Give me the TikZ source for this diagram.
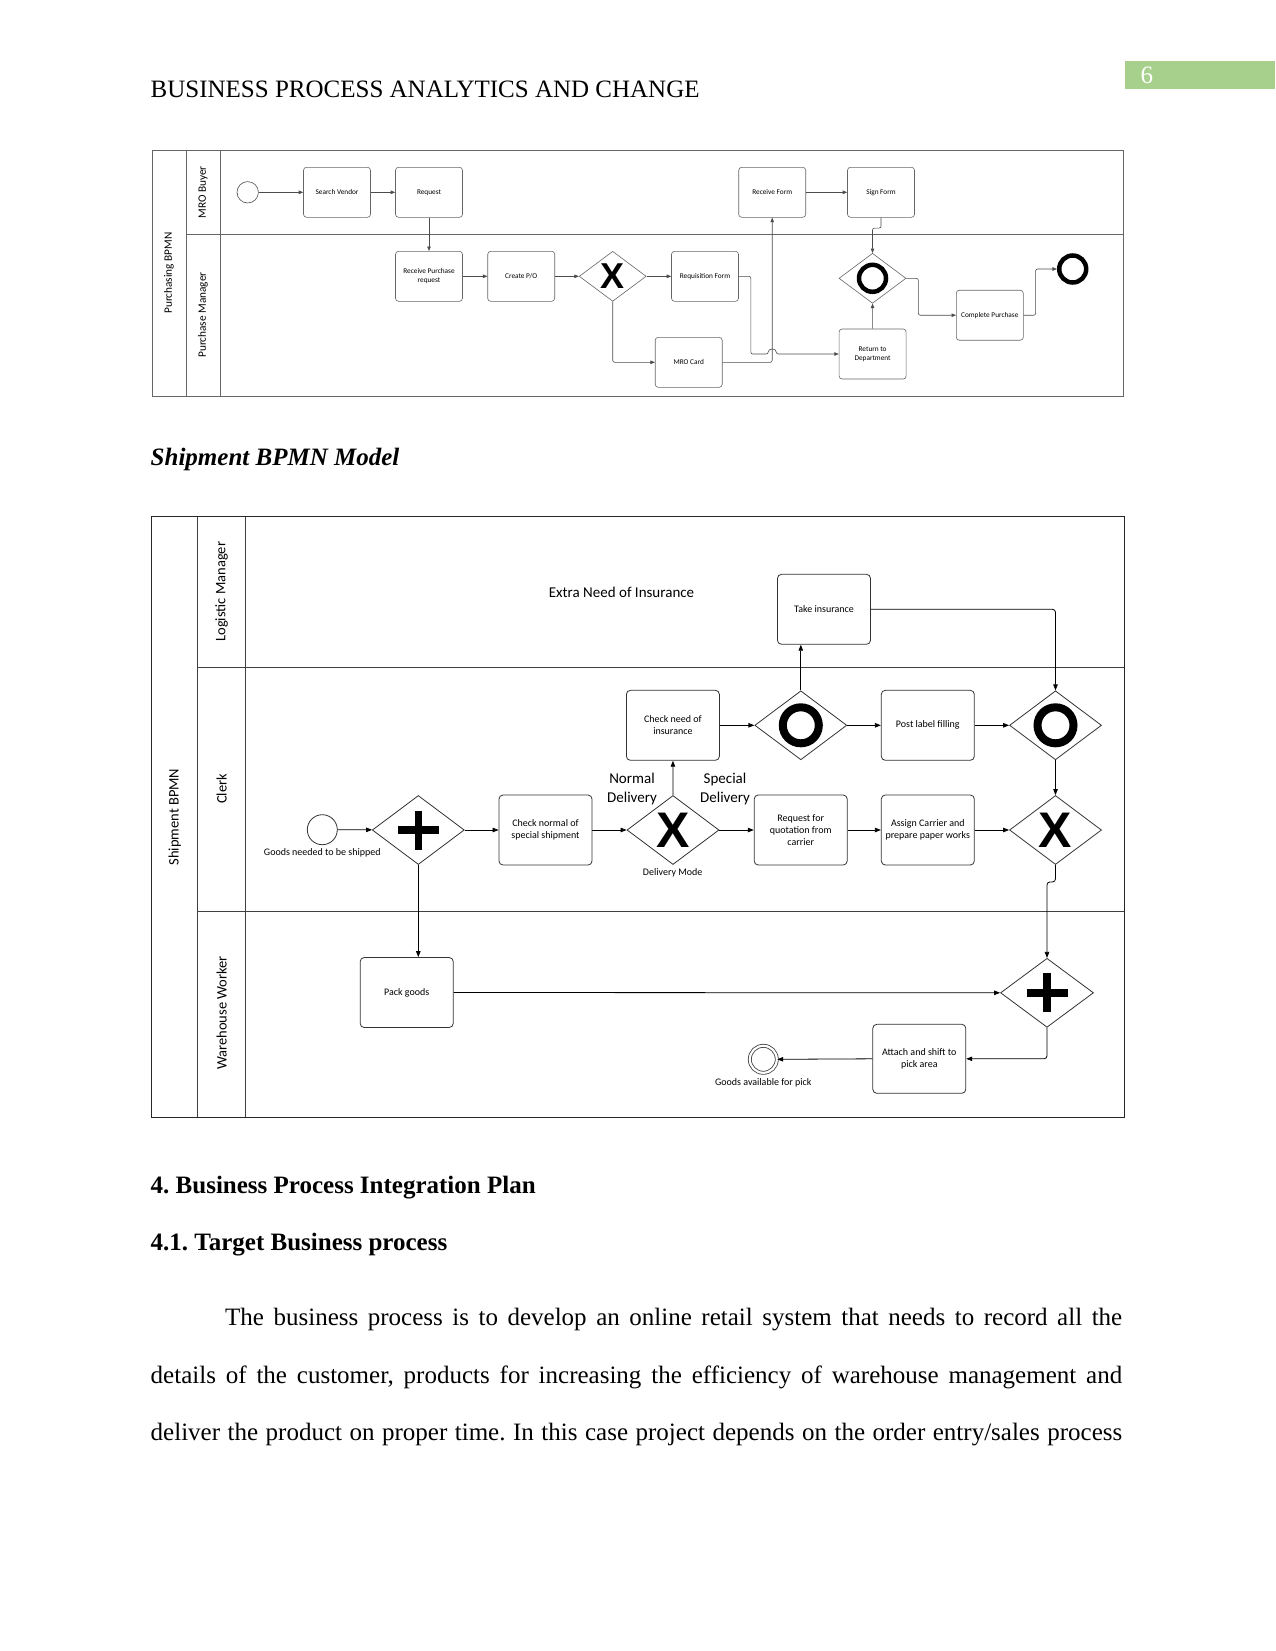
\documentclass[tikz,border=0pt]{standalone}
\usepackage{fontspec}
\setmainfont{Liberation Serif}
\newfontfamily\diagfont{Carlito}
\newfontfamily\markfont{Liberation Sans}
\usetikzlibrary{shapes.geometric,arrows.meta,positioning}
\definecolor{pagegreen}{RGB}{168,208,141}
\newcommand{\bodysize}{\fontsize{25}{30}\selectfont}
\frenchspacing

\begin{document}
\begin{tikzpicture}[
    x=1pt, y=-1pt,
    task/.style={rectangle, rounded corners=4pt, draw=black!80, line width=0.8pt,
                 minimum width=93pt, minimum height=70pt, inner sep=1pt, align=center,
                 font=\diagfont\fontsize{10}{12.3}\selectfont},
    minitask/.style={task, rounded corners=3pt, draw=black!60, line width=0.6pt,
                 minimum width=67pt, minimum height=50pt,
                 font=\diagfont\fontsize{7.3}{9.3}\selectfont},
    gate/.style={diamond, aspect=1.33, draw=black!80, line width=0.8pt,
                 minimum width=92pt, minimum height=69pt, inner sep=0pt},
    minigate/.style={gate, draw=black!60, line width=0.6pt,
                 minimum width=67pt, minimum height=50pt},
    xmark/.style={font=\markfont\bfseries\fontsize{50}{50}\selectfont},
    minixmark/.style={font=\markfont\bfseries\fontsize{36}{36}\selectfont},
    ogate/.style={path picture={\draw[draw=black, line width=8pt]
                 (path picture bounding box.center) circle[radius=18pt];}},
    miniogate/.style={path picture={\draw[draw=black, line width=4.5pt]
                 (path picture bounding box.center) circle[radius=13.5pt];}},
    plusgate/.style={path picture={\draw[draw=black, line width=7.5pt]
                 ([xshift=-20.5pt]path picture bounding box.center) --
                 ([xshift=20.5pt]path picture bounding box.center)
                 ([yshift=-19.5pt]path picture bounding box.center) --
                 ([yshift=19.5pt]path picture bounding box.center);}},
    flow/.style={draw=black, line width=0.8pt, -{Triangle[length=6pt,width=4.5pt]}},
    miniflow/.style={draw=black!70, line width=0.6pt, -{Triangle[length=4.5pt,width=3.5pt]}},
    lane/.style={draw=black!75, line width=0.9pt},
    minilane/.style={draw=black!60, line width=0.8pt},
    lanelabel/.style={rotate=90, font=\diagfont\fontsize{14.5}{17}\selectfont},
    minilanelabel/.style={rotate=90, font=\diagfont\fontsize{11.3}{13}\selectfont},
    note/.style={font=\diagfont\fontsize{10}{12}\selectfont, inner sep=0pt},
    pagetext/.style={anchor=base west, inner sep=0pt, font=\bodysize}
  ]
    \fill[white] (0,0) rectangle (1275,1651);
    \useasboundingbox (0,0) rectangle (1275,1651);

    % page header
    \node[pagetext] (header) at (150.5,97.5) {BUSINESS PROCESS ANALYTICS AND CHANGE};
    \node[anchor=north west, fill=pagegreen, minimum width=150pt, minimum height=28pt,
          inner sep=0pt, text width=150pt, align=left, text=white, font=\bodysize]
          (pagenum) at (1125,61) {\hspace*{15.5pt}6};

    % purchasing pool
    \draw[minilane] (152.5,150) rectangle (1123.5,396);
    \draw[minilane] (186,150) -- (186,396) (220,150) -- (220,396) (186,234) -- (1123.5,234);
    \node[minilanelabel] (poolbuy) at (169,273) {Purchasing BPMN};
    \node[minilanelabel] (buyer) at (203,192.3) {MRO Buyer};
    \node[minilanelabel] (manager) at (203,315) {Purchase Manager};

    \node[circle, draw=black!70, line width=0.6pt, minimum size=21.4pt, inner sep=0pt]
          (buystart) at (247.7,192.3) {};
    \node[minitask] (search) at (337,192.3) {Search Vendor};
    \node[minitask] (request) at (429,192.3) {Request};
    \node[minitask] (recvreq) at (429,276.3) {Receive Purchase\\request};
    \node[minitask] (createpo) at (521.2,276.3) {Create P/O};
    \node[minigate, minixmark] (xpay) at (612.7,276.3) {X};
    \node[minitask] (reqform) at (705,276.3) {Requisition Form};
    \node[minitask] (mrocard) at (688.7,362.3) {MRO Card};
    \node[minitask] (recvform) at (772.2,192.3) {Receive Form};
    \node[minitask] (signform) at (881,192.3) {Sign Form};
    \node[minigate, miniogate] (oform) at (872.5,278.3) {};
    \node[minitask] (retdept) at (872.6,354) {Return to\\Department};
    \node[minitask] (complete) at (989.8,315.2) {Complete Purchase};
    \node[circle, draw=black, line width=4.5pt, minimum size=27pt, inner sep=0pt]
          (buyend) at (1072.7,269) {};
    \coordinate (hop) at (recvform.south |- retdept.west);

    \draw[miniflow] (buystart) -- (search);
    \draw[miniflow] (search) -- (request);
    \draw[miniflow] (request) -- (recvreq);
    \draw[miniflow] (recvreq) -- (createpo);
    \draw[miniflow] (createpo) -- (xpay);
    \draw[miniflow] (xpay) -- (reqform);
    \draw[miniflow, rounded corners=2pt] (xpay.south) |- (mrocard.west);
    \draw[miniflow, rounded corners=2pt] (mrocard.east) -| (recvform.south);
    \draw[miniflow, rounded corners=2pt] (reqform.east) -- ++(12,0) |- ([xshift=-4pt]hop)
      .. controls +(0,-6) and +(0,-6) .. ([xshift=4pt]hop) -- (retdept.west);
    \draw[miniflow] (recvform) -- (signform);
    \draw[miniflow, rounded corners=2pt] (signform.south) -- ++(0,10.5) -| (oform.north);
    \draw[miniflow] (retdept) -- (oform);
    \draw[miniflow, rounded corners=2pt] (oform.east) -- ++(12,0) |- (complete.west);
    \draw[miniflow, rounded corners=2pt] (complete.east) -- ++(12,0) |- (buyend.west);

    \node[pagetext, font=\bodysize\bfseries\itshape] (caption) at (150.5,465) {Shipment BPMN Model};

    % shipment pool
    \draw[draw=black!85, line width=1.2pt] (151.7,516.7) rectangle (1124.4,1117.3);
    \draw[lane] (197.7,516.7) -- (197.7,1117.3) (245.7,516.7) -- (245.7,1117.3)
      (197.7,667.5) -- (1124.4,667.5) (197.7,911) -- (1124.4,911);
    \node[lanelabel] (poolship) at (174.7,817) {Shipment BPMN};
    \node[lanelabel] (logistic) at (221.7,591.7) {Logistic Manager};
    \node[lanelabel] (clerk) at (221.7,789) {Clerk};
    \node[lanelabel] (warehouse) at (221.7,1013) {Warehouse Worker};

    \node[note, font=\diagfont\fontsize{15}{19}\selectfont] (extra) at (621.5,592.3) {Extra Need of Insurance};
    \node[task] (take) at (824,609.3) {Take insurance};

    \node[circle, draw=black!80, line width=0.8pt, minimum size=30pt, inner sep=0pt]
          (shipstart) at (322.3,829.7) {};
    \node[note] (startlbl) at (322.3,853.3) {Goods needed to be shipped};
    \node[gate, plusgate] (split) at (418.3,830) {};
    \node[task] (checknormal) at (545.5,830) {Check normal of\\special shipment};
    \node[gate, xmark] (mode) at (673,830) {X};
    \node[note] (modelbl) at (672.7,873.3) {Delivery Mode};
    \node[note, align=center, font=\diagfont\fontsize{15}{19}\selectfont] (normal) at (632,789) {Normal\\Delivery};
    \node[note, align=center, font=\diagfont\fontsize{15}{19}\selectfont] (special) at (725,789) {Special\\Delivery};
    \node[task] (checkneed) at (672.9,725.3) {Check need of\\insurance};
    \node[gate, ogate] (insure) at (800.8,725.3) {};
    \node[task] (postlabel) at (927.8,725.3) {Post label filling};
    \node[gate, ogate] (insjoin) at (1055.5,725.3) {};
    \node[task] (quote) at (800.7,830) {Request for\\quotation from\\carrier};
    \node[task] (assign) at (927.8,830) {Assign Carrier and\\prepare paper works};
    \node[gate, xmark] (modejoin) at (1055.5,830) {X};

    \node[task] (pack) at (406.7,992.5) {Pack goods};
    \node[gate, plusgate, minimum width=93pt] (merge) at (1047,992.8) {};
    \node[task, minimum height=69pt] (attach) at (919.3,1058.8) {Attach and shift to\\pick area};
    \node[circle, draw=black!75, line width=0.8pt, double, double distance=2.2pt,
          minimum size=27pt, inner sep=0pt] (shipend) at (763.3,1059.3) {};
    \node[note] (endlbl) at (763.3,1082.7) {Goods available for pick};

    \draw[flow] (shipstart) -- (split);
    \draw[flow] (split) -- (checknormal);
    \draw[flow] (checknormal) -- (mode);
    \draw[flow] (mode) -- (checkneed);
    \draw[flow] (mode) -- (quote);
    \draw[flow] (quote) -- (assign);
    \draw[flow] (assign) -- (modejoin);
    \draw[flow] (checkneed) -- (insure);
    \draw[flow] (insure) -- (postlabel);
    \draw[flow] (postlabel) -- (insjoin);
    \draw[flow] (insure.north) -- (insure.north |- take.south);
    \draw[flow, rounded corners=3pt] (take.east) -| (insjoin.north);
    \draw[flow] (insjoin) -- (modejoin);
    \draw[flow, rounded corners=3pt] (modejoin.south) -- ++(0,17) -| (merge.north);
    \draw[flow] (split.south) -- (split.south |- pack.north);
    \draw[flow] (pack.east) -- (merge.west);
    \draw[flow, rounded corners=3pt] (merge.south) |- (attach.east);
    \draw[flow] (attach.west) -- (shipend.east);

    % body text
    \node[pagetext, font=\bodysize\bfseries] (sec4) at (150.5,1193.3) {4. Business Process Integration Plan};
    \node[pagetext, font=\bodysize\bfseries] (sec41) at (150.5,1250.7) {4.1. Target Business process};
    \node[pagetext] (line1) at (225,1325.7)
      {\makebox[897pt][s]{The business process is to develop an online retail system that needs to record all the}};
    \node[pagetext] (line2) at (150.5,1383)
      {\makebox[971.5pt][s]{details of the customer, products for increasing the efficiency of warehouse management and}};
    \node[pagetext] (line3) at (150.5,1440.3)
      {\makebox[971.5pt][s]{deliver the product on proper time. In this case project depends on the order entry/sales process}};
  \end{tikzpicture}
\end{document}
